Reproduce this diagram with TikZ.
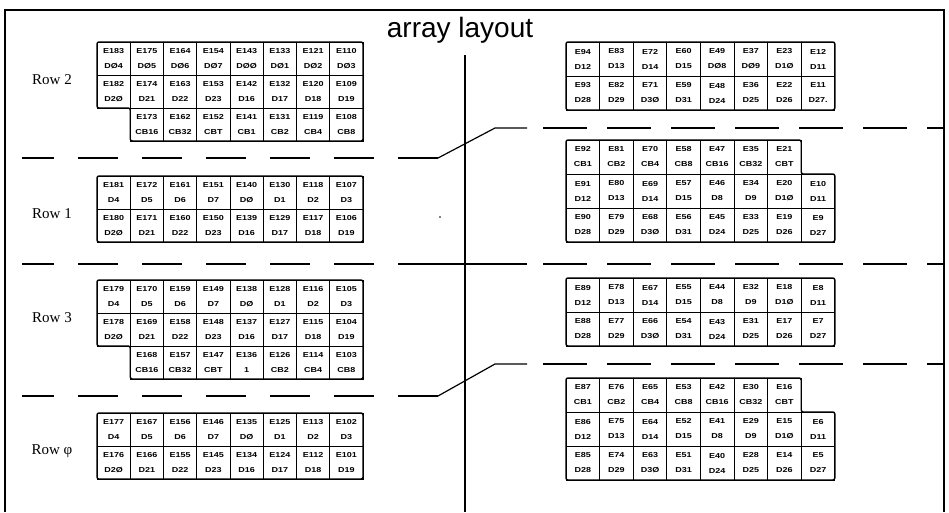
\documentclass[tikz,border=0pt]{standalone}
\usepackage{fontspec}
\setmainfont{Liberation Sans}
\newfontfamily\cellfont[FakeStretch=1.25]{Liberation Sans}
\newfontfamily\rowfont{Liberation Serif}
\newcommand\drawrow[8]{%
  \foreach \e/\d [count=\i from #7] in {#8} {%
    \node[#2] (#1\i) at ({#3+(\i-0.5)*#4},{#5+0.5*#6}) {\e\\[6pt]\d};}}
\begin{document}
\begin{tikzpicture}[x=1pt,y=-1pt,
  cellL/.style={draw, line width=0.9pt, minimum width=33.25pt, minimum height=33pt,
    inner sep=0pt, align=center, font=\cellfont\bfseries\fontsize{7.2}{9}\selectfont},
  cellR/.style={cellL, minimum width=33.6pt, minimum height=34pt},
  outline/.style={line width=1.4pt, rounded corners=2pt},
  frameline/.style={line width=1.1pt},
  sepline/.style={line width=1.2pt},
  dashL/.style={sepline, dash pattern=on 40pt off 24pt, dash phase=8pt},
  dashR/.style={sepline, dash pattern=on 44pt off 20pt},
  rowlab/.style={font=\rowfont\fontsize{15}{17}\selectfont}]
\useasboundingbox (0,0) rectangle (949,512);
% frame
\draw[frameline] (5,512) -- (5,10) -- (944,10) -- (944,512);
\draw[frameline] (465,55) -- (465,512);
\node[font=\fontsize{28}{30}\selectfont, anchor=base] (title) at (460,37) {array layout};

% ---------- left blocks ----------
% Row 2
\drawrow{LBa}{cellL}{97}{33.25}{42}{33}{1}{E183/DØ4,E175/DØ5,E164/DØ6,E154/DØ7,E143/DØØ,E133/DØ1,E121/DØ2,E110/DØ3}
\drawrow{LBb}{cellL}{97}{33.25}{75}{33}{1}{E182/D2Ø,E174/D21,E163/D22,E153/D23,E142/D16,E132/D17,E120/D18,E109/D19}
\drawrow{LBc}{cellL}{97}{33.25}{108}{33}{2}{E173/CB16,E162/CB32,E152/CBT,E141/CB1,E131/CB2,E119/CB4,E108/CB8}
\draw[outline] (97,42) -- (363,42) -- (363,141) -- (130.25,141) -- (130.25,108) -- (97,108) -- cycle;
\node[rowlab] (row2) at (52,80) {Row 2};
% Row 1
\drawrow{LAa}{cellL}{97}{33.25}{176}{33}{1}{E181/D4,E172/D5,E161/D6,E151/D7,E140/DØ,E130/D1,E118/D2,E107/D3}
\drawrow{LAb}{cellL}{97}{33.25}{209}{33}{1}{E180/D2Ø,E171/D21,E160/D22,E150/D23,E139/D16,E129/D17,E117/D18,E106/D19}
\draw[outline] (97,176) rectangle (363,242);
\node[rowlab] (row1) at (52,214) {Row 1};
% Row 3
\drawrow{LCa}{cellL}{97}{33.25}{280}{33}{1}{E179/D4,E170/D5,E159/D6,E149/D7,E138/DØ,E128/D1,E116/D2,E105/D3}
\drawrow{LCb}{cellL}{97}{33.25}{313}{33}{1}{E178/D2Ø,E169/D21,E158/D22,E148/D23,E137/D16,E127/D17,E115/D18,E104/D19}
\drawrow{LCc}{cellL}{97}{33.25}{346}{33}{2}{E168/CB16,E157/CB32,E147/CBT,E136/1,E126/CB2,E114/CB4,E103/CB8}
\draw[outline] (97,280) -- (363,280) -- (363,379) -- (130.25,379) -- (130.25,346) -- (97,346) -- cycle;
\node[rowlab] (row3) at (52,318) {Row 3};
% Row phi
\drawrow{LDa}{cellL}{97}{33.25}{413}{33}{1}{E177/D4,E167/D5,E156/D6,E146/D7,E135/DØ,E125/D1,E113/D2,E102/D3}
\drawrow{LDb}{cellL}{97}{33.25}{446}{33}{1}{E176/D2Ø,E166/D21,E155/D22,E145/D23,E134/D16,E124/D17,E112/D18,E101/D19}
\draw[outline] (97,413) rectangle (363,479);
\node[rowlab] (row0) at (52,451) {Row φ};

% ---------- right blocks ----------
\drawrow{RAa}{cellR}{566}{33.6}{42}{34}{1}{E94/D12,E83/D13,E72/D14,E60/D15,E49/DØ8,E37/DØ9,E23/D1Ø,E12/D11}
\drawrow{RAb}{cellR}{566}{33.6}{76}{34}{1}{E93/D28,E82/D29,E71/D3Ø,E59/D31,E48/D24,E36/D25,E22/D26,E11/D27.}
\draw[outline] (566,42) rectangle (834.8,110);

\drawrow{RBa}{cellR}{566}{33.6}{140}{34}{1}{E92/CB1,E81/CB2,E70/CB4,E58/CB8,E47/CB16,E35/CB32,E21/CBT}
\drawrow{RBb}{cellR}{566}{33.6}{174}{34}{1}{E91/D12,E80/D13,E69/D14,E57/D15,E46/D8,E34/D9,E20/D1Ø,E10/D11}
\drawrow{RBc}{cellR}{566}{33.6}{208}{34}{1}{E90/D28,E79/D29,E68/D3Ø,E56/D31,E45/D24,E33/D25,E19/D26,E9/D27}
\draw[outline] (566,140) -- (801.2,140) -- (801.2,174) -- (834.8,174) -- (834.8,242) -- (566,242) -- cycle;

\drawrow{RCa}{cellR}{566}{33.6}{278}{34}{1}{E89/D12,E78/D13,E67/D14,E55/D15,E44/D8,E32/D9,E18/D1Ø,E8/D11}
\drawrow{RCb}{cellR}{566}{33.6}{312}{34}{1}{E88/D28,E77/D29,E66/D3Ø,E54/D31,E43/D24,E31/D25,E17/D26,E7/D27}
\draw[outline] (566,278) rectangle (834.8,346);

\drawrow{RDa}{cellR}{566}{33.6}{378}{34}{1}{E87/CB1,E76/CB2,E65/CB4,E53/CB8,E42/CB16,E30/CB32,E16/CBT}
\drawrow{RDb}{cellR}{566}{33.6}{412}{34}{1}{E86/D12,E75/D13,E64/D14,E52/D15,E41/D8,E29/D9,E15/D1Ø,E6/D11}
\drawrow{RDc}{cellR}{566}{33.6}{446}{34}{1}{E85/D28,E74/D29,E63/D3Ø,E51/D31,E40/D24,E28/D25,E14/D26,E5/D27}
\draw[outline] (566,378) -- (801.2,378) -- (801.2,412) -- (834.8,412) -- (834.8,480) -- (566,480) -- cycle;

% ---------- separators ----------
\draw[dashL] (22,158) -- (438,158);
\draw[sepline] (438,158) -- (495,128) -- (527,128);
\draw[dashR] (543,128) -- (944,128);

\draw[dashL] (22,264) -- (398,264);
\draw[sepline] (398,264) -- (527,264);
\draw[dashR] (543,264) -- (944,264);

\draw[dashL] (22,396) -- (438,396);
\draw[sepline] (438,396) -- (495,364) -- (527,364);
\draw[dashR] (543,364) -- (944,364);

\fill (440,217) circle (0.9pt);
\end{tikzpicture}
\end{document}
